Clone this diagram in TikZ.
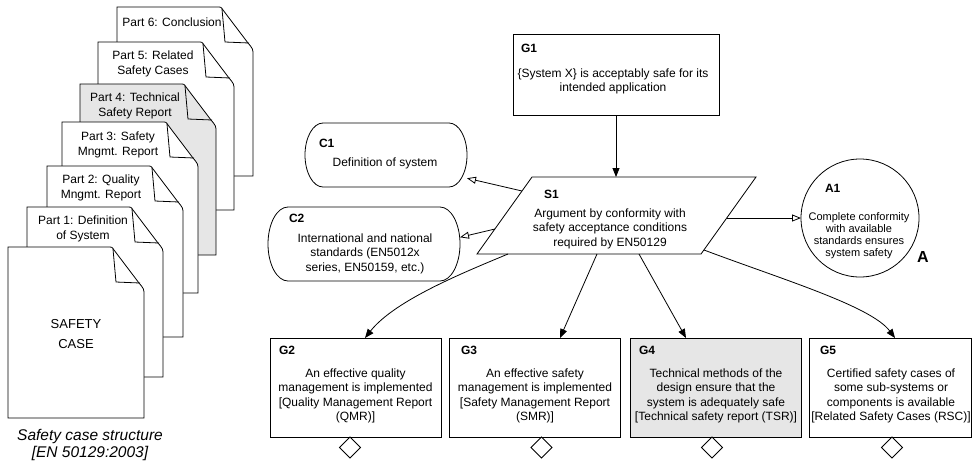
\documentclass[tikz,border=0pt]{standalone}
\usepackage{fontspec}
\setmainfont{Liberation Sans}
\usetikzlibrary{arrows.meta,calc,shapes.geometric}
\definecolor{gsngray}{HTML}{E6E6E6}
\newcommand{\gsnpage}[4]{%
  \filldraw[fill=#4] (#1,{#2+#3}) -- (#1,#2) -- ({#1+100},#2) .. controls ({#1+104},#2) .. ({#1+106},{#2+3}) -- ({#1+131},{#2+36}) .. controls ({#1+136},{#2+42}) .. ({#1+136},{#2+48}) -- ({#1+136},{#2+#3}) -- cycle;
  \draw ({#1+105},{#2+2}) -- ({#1+108},{#2+35}) -- ({#1+132},{#2+36});
}
\begin{document}
\begin{tikzpicture}[x=1pt,y=-1pt,line width=0.8pt,
  every node/.style={inner sep=0pt,outer sep=0pt},
  txt/.style={font=\fontsize{12}{14.5}\selectfont,align=center},
  doctxt/.style={font=\fontsize{12}{15}\selectfont,align=center},
  smalltxt/.style={font=\fontsize{11}{12}\selectfont,align=center},
  lbl/.style={font=\fontsize{12}{14}\selectfont\bfseries,anchor=west},
  goalbox/.style={draw,rectangle,minimum width=171pt,minimum height=99pt},
  ctxframe/.style={rectangle},
  supp/.style={-{Triangle[length=9pt,width=7pt]}},
  ctxarrow/.style={-{Triangle[open,length=9pt,width=7pt]}},
  undev/.style={draw,diamond,fill=white,minimum width=21pt,minimum height=21pt,anchor=north},
]
\useasboundingbox (0,0) rectangle (973,464);

% ---------- document stack ----------
\gsnpage{117}{7}{169}{white}
\node[doctxt] (p6) at (172,22) {Part 6: Conclusion};
\gsnpage{98}{42}{168}{white}
\node[doctxt] (p5) at (153,63.5) {Part 5: Related\\Safety Cases};
\gsnpage{80}{84}{171}{gsngray}
\node[doctxt] (p4) at (135,105.5) {Part 4: Technical\\Safety Report};
\gsnpage{62}{122}{171}{white}
\node[doctxt] (p3) at (118,144.5) {Part 3: Safety\\Mngmt. Report};
\gsnpage{47}{166}{171}{white}
\node[doctxt] (p2) at (101,187.5) {Part 2: Quality\\Mngmt. Report};
\gsnpage{27}{207}{170}{white}
\node[doctxt] (p1) at (83,228.5) {Part 1: Definition\\of System};
\gsnpage{8}{247}{171}{white}
\node[font=\fontsize{13}{20}\selectfont,align=center] (sc) at (76,334) {SAFETY\\CASE};
\node[font=\fontsize{15.5}{17}\selectfont\itshape,align=center] (cap) at (90,444.5) {Safety case structure\\{[}EN 50129:2003{]}};

% ---------- G1 ----------
\node[draw,rectangle,minimum width=206pt,minimum height=81pt] (G1) at (616,74.5) {};
\node[lbl] (G1l) at (521,48) {G1};
\node[txt] (G1t) at (613,81.5) {\{System X\} is acceptably safe for its\\intended application};

% ---------- S1 ----------
\coordinate (s1tl) at (532,177);
\coordinate (s1tr) at (756,177);
\coordinate (s1br) at (701,254);
\coordinate (s1bl) at (477,254);
\draw (s1tl) -- (s1tr) -- (s1br) -- (s1bl) -- cycle;
\node[lbl] (S1l) at (544,194) {S1};
\node[txt] (S1t) at (610,228.5) {Argument by conformity with\\safety acceptance conditions\\required by EN50129};
\coordinate (s1in) at (616,177);
\coordinate (s1c1) at (522,191);
\coordinate (s1c2) at (495,229);
\coordinate (s1a1) at (727.4,218);
\coordinate (s1g2) at (508,254);
\coordinate (s1g3) at (597,254);
\coordinate (s1g4) at (639,254);
\coordinate (s1g5) at (704,250);

% ---------- C1, C2 ----------
\node[ctxframe,minimum width=162pt,minimum height=64pt] (C1) at (386,155) {};
\draw ($(C1.north west)+(18,0)$) -- ($(C1.north east)+(-18,0)$)
  arc[start angle=90,end angle=-90,x radius=18pt,y radius=32pt]
  -- ($(C1.south west)+(18,0)$)
  arc[start angle=270,end angle=90,x radius=18pt,y radius=32pt] -- cycle;
\node[lbl] (C1l) at (319,143) {C1};
\node[txt] (C1t) at (385,163) {Definition of system};

\node[ctxframe,minimum width=192pt,minimum height=74pt] (C2) at (364,244) {};
\draw ($(C2.north west)+(20,0)$) -- ($(C2.north east)+(-20,0)$)
  arc[start angle=90,end angle=-90,x radius=20pt,y radius=37pt]
  -- ($(C2.south west)+(20,0)$)
  arc[start angle=270,end angle=90,x radius=20pt,y radius=37pt] -- cycle;
\node[lbl] (C2l) at (289,218) {C2};
\node[txt] (C2t) at (365,253.5) {International and national\\standards (EN5012x\\series, EN50159, etc.)};

% ---------- A1 ----------
\node[draw,circle,minimum size=118pt] (A1) at (860,218) {};
\node[lbl] (A1l) at (825,188) {A1};
\node[smalltxt] (A1t) at (859,236) {Complete conformity\\with available\\standards ensures\\system safety};
\node[font=\fontsize{16}{18}\selectfont\bfseries] (Amark) at (923,257) {A};

% ---------- G2..G5 ----------
\node[goalbox] (G2) at (355.5,387.5) {};
\node[lbl] (G2l) at (279,350) {G2};
\node[txt] (G2t) at (355.5,396) {An effective quality\\management is implemented\\ {[}Quality Management Report\\(QMR){]}};
\node[undev] (G2u) at (350,437) {};

\node[goalbox] (G3) at (535,387.5) {};
\node[lbl] (G3l) at (461,350) {G3};
\node[txt] (G3t) at (535,396) {An effective safety\\management is implemented\\ {[}Safety Management Report\\(SMR){]}};
\node[undev] (G3u) at (541.5,437) {};

\node[goalbox,fill=gsngray] (G4) at (715.5,387.5) {};
\node[lbl] (G4l) at (639,350) {G4};
\node[txt] (G4t) at (716,396) {Technical methods of the\\design ensure that the\\system is adequately safe\\ {[}Technical safety report (TSR){]}};
\node[undev] (G4u) at (712,437) {};

\node[draw,rectangle,minimum width=162pt,minimum height=99pt] (G5) at (890,387.5) {};
\node[lbl] (G5l) at (820,350) {G5};
\node[txt] (G5t) at (891,396) {Certified safety cases of\\some sub-systems or\\components is available\\ {[}Related Safety Cases (RSC){]}};
\node[undev] (G5u) at (892,437) {};

% ---------- connectors ----------
\draw[supp] (G1.south) -- (s1in);
\draw[ctxarrow] (s1c1) -- (C1.-16);
\draw[ctxarrow] (s1c2) -- (C2.4);
\draw[ctxarrow] (s1a1) -- (A1.west);
\draw[supp] (s1g2) .. controls (465,272) and (395,300) .. ($(G2.north)+(9.5,0)$);
\draw[supp] (s1g3) -- ($(G3.north)+(25,0)$);
\draw[supp] (s1g4) -- ($(G4.north)+(-29.5,0)$);
\draw[supp] (s1g5) .. controls (781,279) and (871,306) .. ($(G5.north)+(5,0)$);
\end{tikzpicture}
\end{document}
